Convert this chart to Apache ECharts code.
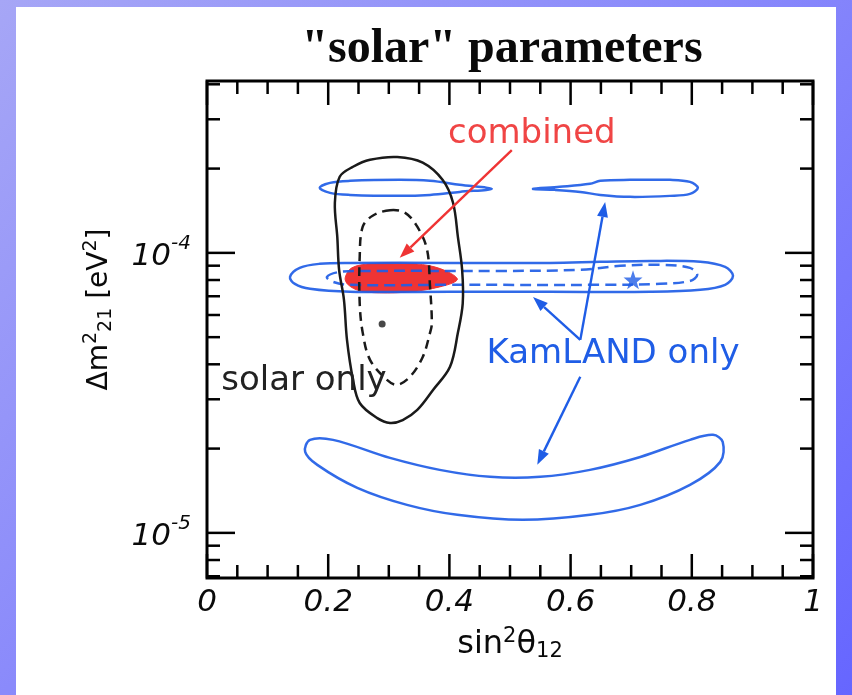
<!DOCTYPE html>
<html>
<head>
<meta charset="utf-8">
<script src="https://cdn.jsdelivr.net/npm/echarts@6/dist/echarts.min.js"></script>
<style>
  html, body { margin: 0; padding: 0; width: 852px; height: 695px; overflow: hidden;
    background: linear-gradient(135deg, #a6a6f6 0%, #8a8afb 45%, #6666ff 100%); }
  #panel { position: absolute; left: 16px; top: 7px; width: 820px; height: 688px; background: #fff; }
  #chart { position: absolute; left: 0; top: 0; width: 852px; height: 695px; }
</style>
</head>
<body>
<div id="panel"></div>
<div id="chart"></div>
<script>
// ---- axis ticks ----
const xTickMajor = [0, 0.2, 0.4, 0.6, 0.8, 1];
const xTickMinor = [0.05, 0.1, 0.15, 0.25, 0.3, 0.35, 0.45, 0.5, 0.55, 0.65, 0.7, 0.75, 0.85, 0.9, 0.95];
const yTickMajor = [1e-5, 1e-4];
const yTickMinor = [7e-6, 8e-6, 9e-6, 2e-5, 3e-5, 4e-5, 5e-5, 6e-5, 7e-5, 8e-5, 9e-5, 2e-4, 3e-4, 4e-4];

// ---- allowed regions: [sin^2 theta12, dm^2_21 (eV^2)] ----
const solarOuter = [
  [0.314, 2.20e-4], [0.356, 2.10e-4], [0.389, 1.82e-4], [0.406, 1.51e-4], [0.414, 1.14e-4],
  [0.421, 8.7e-5], [0.422, 6.6e-5], [0.414, 5.18e-5], [0.401, 3.92e-5], [0.373, 3.24e-5],
  [0.347, 2.75e-5], [0.323, 2.53e-5], [0.302, 2.47e-5], [0.281, 2.57e-5], [0.252, 2.91e-5],
  [0.241, 3.52e-5], [0.231, 4.89e-5], [0.226, 6.8e-5], [0.218, 8.7e-5], [0.215, 1.14e-4],
  [0.211, 1.51e-4], [0.219, 1.87e-4], [0.241, 2.03e-4], [0.269, 2.15e-4]
];
const solarInner = [
  [0.302, 1.42e-4], [0.327, 1.39e-4], [0.347, 1.24e-4], [0.363, 1.03e-4], [0.368, 7.6e-5],
  [0.371, 5.6e-5], [0.368, 5.18e-5], [0.356, 4.25e-5], [0.335, 3.61e-5], [0.314, 3.38e-5],
  [0.297, 3.52e-5], [0.269, 4.15e-5], [0.257, 5.18e-5], [0.252, 6.6e-5], [0.252, 9.7e-5],
  [0.257, 1.24e-4], [0.274, 1.36e-4]
];
const kamBandOuter = [
  [0.137, 8.21e-5], [0.153, 8.84e-5], [0.186, 9.14e-5], [0.236, 9.21e-5], [0.401, 9.21e-5],
  [0.566, 9.21e-5], [0.649, 9.29e-5], [0.731, 9.36e-5], [0.814, 9.29e-5], [0.855, 8.91e-5],
  [0.868, 8.28e-5], [0.855, 7.69e-5], [0.814, 7.38e-5], [0.731, 7.26e-5], [0.566, 7.26e-5],
  [0.401, 7.26e-5], [0.236, 7.26e-5], [0.170, 7.44e-5], [0.145, 7.75e-5]
];
const kamBandInner = [
  [0.198, 8.21e-5], [0.219, 8.55e-5], [0.285, 8.62e-5], [0.483, 8.62e-5], [0.616, 8.70e-5],
  [0.682, 8.99e-5], [0.748, 9.06e-5], [0.797, 8.84e-5], [0.809, 8.35e-5], [0.797, 7.94e-5],
  [0.748, 7.75e-5], [0.649, 7.69e-5], [0.401, 7.69e-5], [0.236, 7.69e-5], [0.208, 7.88e-5]
];
const kamUpperLeft = [
  [0.186, 1.707e-4], [0.203, 1.778e-4], [0.236, 1.808e-4], [0.318, 1.823e-4], [0.368, 1.808e-4],
  [0.417, 1.750e-4], [0.470, 1.693e-4], [0.417, 1.651e-4], [0.368, 1.611e-4], [0.318, 1.598e-4],
  [0.236, 1.611e-4], [0.203, 1.638e-4]
];
const kamUpperRight = [
  [0.538, 1.693e-4], [0.582, 1.721e-4], [0.632, 1.764e-4], [0.649, 1.808e-4], [0.698, 1.823e-4],
  [0.764, 1.823e-4], [0.797, 1.793e-4], [0.810, 1.707e-4], [0.797, 1.624e-4], [0.764, 1.598e-4],
  [0.698, 1.585e-4], [0.649, 1.611e-4], [0.616, 1.651e-4], [0.574, 1.679e-4]
];
const kamLower = [
  [0.170, 2.149e-5], [0.208, 2.149e-5], [0.302, 1.853e-5], [0.384, 1.679e-5], [0.467, 1.585e-5],
  [0.550, 1.585e-5], [0.632, 1.679e-5], [0.715, 1.867e-5], [0.797, 2.149e-5], [0.835, 2.239e-5],
  [0.851, 2.113e-5], [0.847, 1.793e-5], [0.797, 1.484e-5], [0.715, 1.259e-5], [0.632, 1.160e-5],
  [0.521, 1.113e-5], [0.413, 1.160e-5], [0.330, 1.259e-5], [0.248, 1.448e-5], [0.182, 1.749e-5],
  [0.162, 1.947e-5]
];
const combinedRegion = [
  [0.228, 8.14e-5], [0.239, 8.84e-5], [0.269, 9.14e-5], [0.318, 9.21e-5], [0.368, 8.99e-5],
  [0.401, 8.48e-5], [0.413, 8.01e-5], [0.384, 7.56e-5], [0.335, 7.26e-5], [0.285, 7.20e-5],
  [0.252, 7.32e-5], [0.233, 7.69e-5]
];
const solarBest = [[0.289, 5.57e-5]];
const kamlandBest = [[0.703, 8.01e-5]];

// ---- annotations ----
const noteText = ['combined', 'KamLAND only', 'solar only'];
const noteAt = [[0.536, 2.66e-4], [0.670, 4.36e-5], [0.160, 3.49e-5]];
const arrowFrom = [[0.503, 2.33e-4], [0.616, 4.89e-5], [0.616, 4.89e-5], [0.616, 3.61e-5]];
const arrowTo = [[0.318, 9.6e-5], [0.538, 6.96e-5], [0.657, 1.52e-4], [0.545, 1.75e-5]];

const RED = '#ef3434';
const BLUE = '#1f5de6';
const BLACK = '#1a1a1a';
const FONT = 'DejaVu Sans';

function contour(name, pts, style, z) {
  return {
    type: 'custom', name: name, coordinateSystem: 'cartesian2d', z: z, clip: true,
    data: pts,
    renderItem: function (params, api) {
      if (params.dataIndex !== 0) return null;
      const p = pts.map(function (d) { return api.coord(d); });
      return { type: 'polygon', shape: { points: p, smooth: 0.35 }, style: style };
    }
  };
}

const lineStyleBlue = { fill: 'none', stroke: BLUE, lineWidth: 2.5, opacity: 0.92 };
const lineStyleBlueDash = { fill: 'none', stroke: BLUE, lineWidth: 2.5, lineDash: [11, 6], opacity: 0.92 };

const chart = echarts.init(document.getElementById('chart'));

chart.setOption({
  animation: false,
  grid: { left: 207, top: 81, width: 606, height: 497, show: true, borderColor: '#000', borderWidth: 3, backgroundColor: 'transparent' },
  graphic: [{
    type: 'text', x: 502, y: 50, z: 10,
    style: { text: '"solar" parameters', font: 'bold 48px "Liberation Serif"', fill: '#0a0a0a', textAlign: 'center', textVerticalAlign: 'middle' }
  }],
  xAxis: {
    type: 'value', min: 0, max: 1, interval: 0.2,
    axisLine: { show: false }, axisTick: { show: false }, splitLine: { show: false },
    axisLabel: { fontFamily: FONT, fontStyle: 'italic', fontSize: 31, color: '#0a0a0a', margin: 9 },
    name: '{b|sin}{p|2}{b|θ}{d|12}', nameLocation: 'middle', nameGap: 48,
    nameTextStyle: {
      rich: {
        b: { fontFamily: FONT, fontSize: 32, color: '#0a0a0a', verticalAlign: 'middle' },
        p: { fontFamily: FONT, fontSize: 21, color: '#0a0a0a', padding: [0, 0, 16, 0], verticalAlign: 'middle' },
        d: { fontFamily: FONT, fontSize: 21, color: '#0a0a0a', padding: [14, 0, 0, 0], verticalAlign: 'middle' }
      }
    }
  },
  yAxis: {
    type: 'log', logBase: 10, min: 6.9e-6, max: 4.11e-4,
    axisLine: { show: false }, axisTick: { show: false }, splitLine: { show: false },
    axisLabel: {
      margin: 16,
      formatter: function (v) {
        const e = Math.log10(v), r = Math.round(e);
        if (Math.abs(e - r) > 1e-6) return '';
        return '{b|10}{s|' + r + '}';
      },
      rich: {
        b: { fontFamily: FONT, fontStyle: 'italic', fontSize: 31, color: '#0a0a0a', verticalAlign: 'middle', padding: [8, 0, 0, 0] },
        s: { fontFamily: FONT, fontStyle: 'italic', fontSize: 20, color: '#0a0a0a', verticalAlign: 'middle', padding: [0, 0, 18, 0] }
      }
    },
    name: '{b|Δm}{p|2}{d|21}{b| [eV}{p|2}{b|]}', nameLocation: 'middle', nameRotate: 90, nameGap: 90,
    nameTextStyle: {
      padding: [0, 0, 0, 40],
      rich: {
        b: { fontFamily: FONT, fontSize: 28, color: '#0a0a0a', verticalAlign: 'middle' },
        p: { fontFamily: FONT, fontSize: 19, color: '#0a0a0a', padding: [0, 0, 16, 0], verticalAlign: 'middle' },
        d: { fontFamily: FONT, fontSize: 19, color: '#0a0a0a', padding: [14, 0, 0, 0], verticalAlign: 'middle' }
      }
    }
  },
  series: [
    contour('combined', combinedRegion, { fill: RED, stroke: RED, lineWidth: 1 }, 2),
    contour('KamLAND band', kamBandOuter, lineStyleBlue, 3),
    contour('KamLAND band inner', kamBandInner, lineStyleBlueDash, 3),
    contour('KamLAND upper left', kamUpperLeft, lineStyleBlue, 3),
    contour('KamLAND upper right', kamUpperRight, lineStyleBlue, 3),
    contour('KamLAND lower', kamLower, lineStyleBlue, 3),
    contour('solar outer', solarOuter, { fill: 'none', stroke: BLACK, lineWidth: 2.5 }, 4),
    contour('solar inner', solarInner, { fill: 'none', stroke: BLACK, lineWidth: 2.5, lineDash: [9, 6] }, 4),
    {
      type: 'scatter', name: 'solar best fit', data: solarBest, z: 5,
      symbol: 'circle', symbolSize: 7, itemStyle: { color: BLACK }
    },
    {
      type: 'scatter', name: 'KamLAND best fit', data: kamlandBest, z: 5,
      symbol: 'path://M0,-10L2.35,-3.24L9.51,-3.09L3.8,1.24L5.88,8.09L0,4L-5.88,8.09L-3.8,1.24L-9.51,-3.09L-2.35,-3.24Z',
      symbolSize: 19, itemStyle: { color: BLUE }
    },
    {
      // arrows pointing from the labels to the regions
      type: 'custom', name: 'arrows', coordinateSystem: 'cartesian2d', z: 6,
      data: arrowFrom.map(function (d, i) { return [d[0], d[1], i]; }),
      renderItem: function (params, api) {
        const i = params.dataIndex;
        const p1 = api.coord(arrowFrom[i]), p2 = api.coord(arrowTo[i]);
        const dx = p2[0] - p1[0], dy = p2[1] - p1[1], len = Math.sqrt(dx * dx + dy * dy);
        const ux = dx / len, uy = dy / len, head = 15, half = 5.5;
        const bx = p2[0] - ux * head, by = p2[1] - uy * head;
        const c = i === 0 ? RED : BLUE;
        return {
          type: 'group', children: [
            { type: 'line', shape: { x1: p1[0], y1: p1[1], x2: bx, y2: by }, style: { stroke: c, lineWidth: 2.4 } },
            { type: 'polygon', shape: { points: [p2, [bx - uy * half, by + ux * half], [bx + uy * half, by - ux * half]] }, style: { fill: c } }
          ]
        };
      }
    },
    {
      type: 'custom', name: 'labels', coordinateSystem: 'cartesian2d', z: 7,
      data: noteAt.map(function (d, i) { return [d[0], d[1], i]; }),
      renderItem: function (params, api) {
        const i = params.dataIndex;
        const p = api.coord(noteAt[i]);
        const c = i === 0 ? '#f04545' : (i === 1 ? BLUE : '#222');
        return {
          type: 'text', x: p[0], y: p[1],
          style: { text: noteText[i], fill: c, font: '34px "' + FONT + '"', textAlign: 'center', textVerticalAlign: 'middle' }
        };
      }
    },
    {
      // inward tick marks on all four sides of the frame
      type: 'custom', name: 'ticks', coordinateSystem: 'cartesian2d', z: 8, clip: false,
      data: [[0.5, 1e-4]],
      renderItem: function (params, api) {
        const cs = params.coordSys;
        const L = cs.x, R = cs.x + cs.width, T = cs.y, B = cs.y + cs.height;
        const kids = [];
        function seg(x1, y1, x2, y2) {
          kids.push({ type: 'line', shape: { x1: x1, y1: y1, x2: x2, y2: y2 }, style: { stroke: '#000', lineWidth: 2.5 } });
        }
        function xt(v, len) { const px = api.coord([v, 1e-4])[0]; seg(px, B, px, B - len); seg(px, T, px, T + len); }
        function yt(v, len) { const py = api.coord([0.5, v])[1]; if (py < T + 1 || py > B - 1) return; seg(L, py, L + len, py); seg(R, py, R - len, py); }
        xTickMajor.forEach(function (v) { xt(v, 24); });
        xTickMinor.forEach(function (v) { xt(v, 13); });
        yTickMajor.forEach(function (v) { yt(v, 28); });
        yTickMinor.forEach(function (v) { yt(v, 13); });
        return { type: 'group', children: kids };
      }
    }
  ]
});
</script>
</body>
</html>
